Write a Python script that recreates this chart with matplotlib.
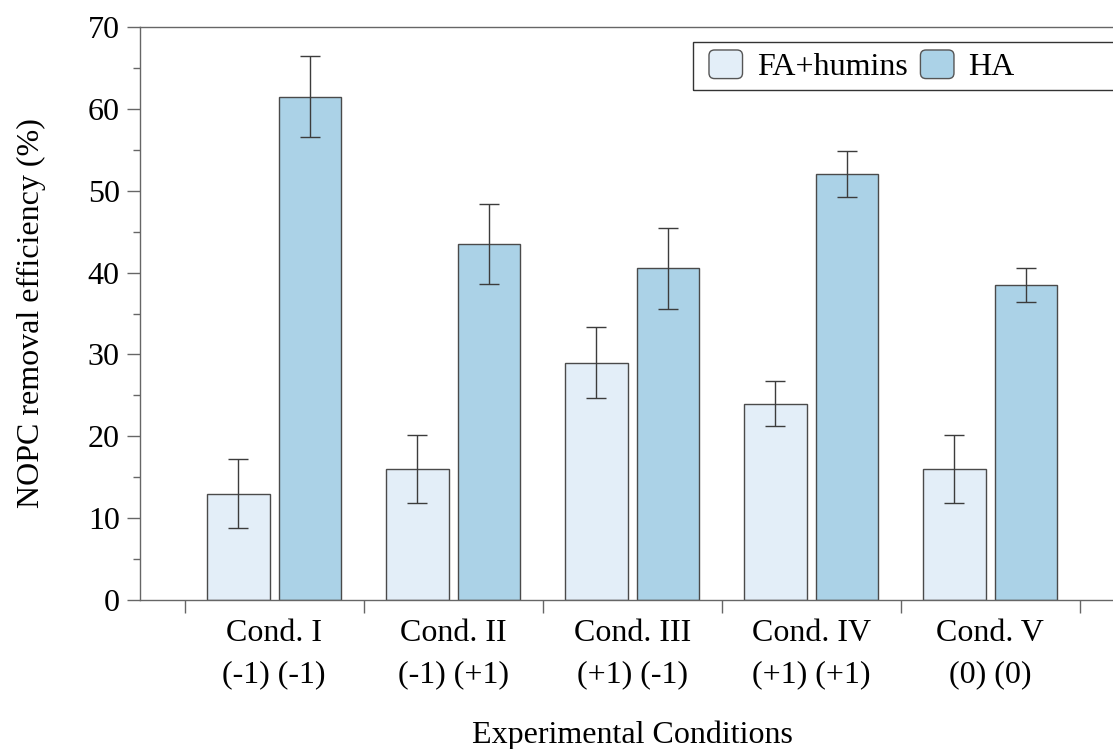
import numpy as np
import matplotlib.pyplot as plt
from matplotlib.patches import FancyBboxPatch, Rectangle
from matplotlib.legend_handler import HandlerPatch

plt.rcParams['font.family'] = ['Liberation Serif', 'DejaVu Serif']

# ==============================
# Data
# ==============================
conditions = ["Cond. I\n(-1) (-1)", "Cond. II\n(-1) (+1)", "Cond. III\n(+1) (-1)",
              "Cond. IV\n(+1) (+1)", "Cond. V\n(0) (0)"]
fa_humins = [13, 16, 29, 24, 16]
fa_err = [4.2, 4.2, 4.3, 2.8, 4.2]
ha = [61.5, 43.5, 40.5, 52, 38.5]
ha_err = [4.9, 4.9, 4.9, 2.8, 2.1]

fa_color = "#e3eef8"
ha_color = "#abd2e7"
edge = "#4a4a4a"
spine_gray = "#666666"
fs = 23


class RoundHandler(HandlerPatch):
    # rounded square legend handles
    def create_artists(self, legend, orig_handle, xdescent, ydescent,
                       width, height, fontsize, trans):
        r = 4
        p = FancyBboxPatch((-xdescent + r, -ydescent + r), width - 2 * r, height - 2 * r,
                           boxstyle="round,pad=%g" % r,
                           facecolor=orig_handle.get_facecolor(),
                           edgecolor="#555555", linewidth=1.0, transform=trans)
        return [p]


fig = plt.figure(figsize=(11.13, 7.49), dpi=100)
ax = fig.add_axes([140 / 1113, 149 / 749, 984.5 / 1113, 573 / 749])

x = np.arange(len(conditions))
w = 0.35
err_kw = dict(ecolor="#3c3c3c", elinewidth=1.0, capsize=7, capthick=1.0)
b1 = ax.bar(x - 0.2, fa_humins, w, yerr=fa_err, color=fa_color,
            edgecolor=edge, linewidth=1.0, error_kw=err_kw, label="FA+humins")
b2 = ax.bar(x + 0.2, ha, w, yerr=ha_err, color=ha_color,
            edgecolor=edge, linewidth=1.0, error_kw=err_kw, label="HA")

ax.set_xlim(-0.75, 4.75)
ax.set_ylim(0, 70)

# major x ticks at group boundaries, labels at centres
ax.set_xticks(np.arange(-0.5, 5.0, 1.0))
ax.set_xticklabels([])
ax.set_xticks(x, minor=True)
ax.set_xticklabels(conditions, minor=True, fontsize=fs, linespacing=1.55)
ax.tick_params(axis="x", which="major", direction="out", length=9.5,
               width=1.0, color=spine_gray)
ax.tick_params(axis="x", which="minor", length=0, pad=14)

ax.set_yticks(np.arange(0, 71, 10))
ax.set_yticks(np.arange(5, 70, 10), minor=True)
ax.tick_params(axis="y", which="major", direction="out", length=9.5,
               width=1.0, color=spine_gray, labelsize=fs, pad=5)
ax.tick_params(axis="y", which="minor", direction="out", length=5,
               width=1.0, color=spine_gray)

for s in ax.spines.values():
    s.set_color(spine_gray)
    s.set_linewidth(1.0)

ax.set_ylabel("NOPC removal efficiency (%)", fontsize=fs, labelpad=30)
ax.set_xlabel("Experimental Conditions", fontsize=fs, labelpad=22)

# legend frame runs past the right edge of the figure
fig.patches.append(Rectangle((693 / 1113, 1 - 90 / 749), 0.5, 48 / 749,
                             transform=fig.transFigure, fill=False,
                             edgecolor="#333333", linewidth=1.0))
leg = fig.legend([b1.patches[0], b2.patches[0]], ["FA+humins", "HA"],
                 ncol=2, loc="upper left",
                 bbox_to_anchor=(701 / 1113, 1 - 42 / 749),
                 bbox_transform=fig.transFigure, fontsize=fs,
                 frameon=False, borderaxespad=0, borderpad=0.25,
                 handlelength=1.05, handleheight=1.0, handletextpad=0.45,
                 columnspacing=0.4,
                 handler_map={Rectangle: RoundHandler()})

fig.savefig("out.png", dpi=100)
